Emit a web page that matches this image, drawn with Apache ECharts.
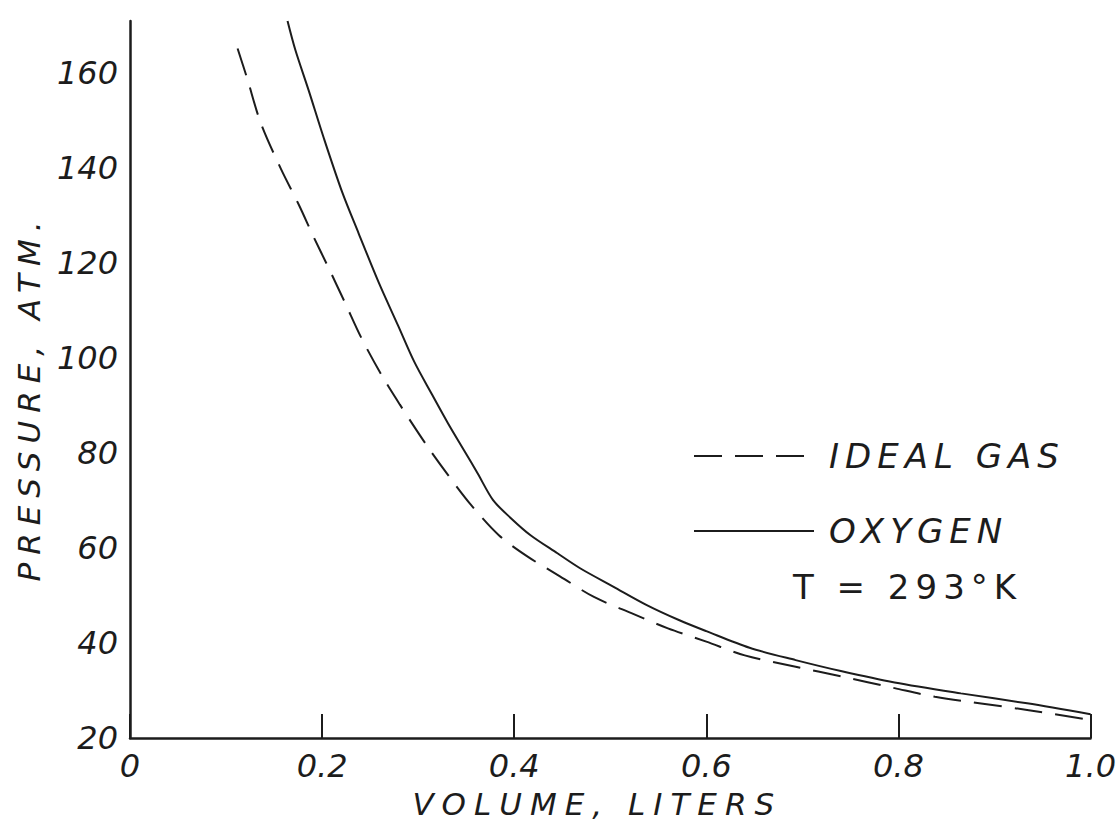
<!DOCTYPE html>
<html>
<head>
<meta charset="utf-8">
<title>Pressure vs Volume</title>
<script src="https://cdn.jsdelivr.net/npm/echarts@6/dist/echarts.min.js"></script>
<style>
  html, body { margin: 0; padding: 0; background: #ffffff; }
  #chart { width: 1119px; height: 831px; }
  /* hand-lettered look: widely spaced capitals */
  #chart text[style*="34px"] { letter-spacing: 6px; }
  #chart text[style*="31px"] { letter-spacing: 8px; }
</style>
</head>
<body>
<div id="chart"></div>
<script>
// Ideal gas curve (volume in liters, pressure in atm)
const idealVolume   = [0.112, 0.122, 0.136, 0.157, 0.176, 0.191, 0.207, 0.224, 0.241, 0.262, 0.281,
                       0.310, 0.331, 0.355, 0.384, 0.414, 0.448, 0.483, 0.522, 0.560, 0.600, 0.640,
                       0.693, 0.740, 0.796, 0.838, 0.934, 1.000];
const idealPressure = [165.2, 158.9, 149.6, 139.9, 132.2, 125.6, 118.9, 111.6, 104.2, 96.4, 90.2,
                       81.3, 75.4, 69.1, 62.7, 58.2, 54.0, 49.7, 46.3, 43.1, 40.3, 37.4,
                       35.0, 33.0, 30.5, 28.7, 25.9, 23.8];

// Oxygen curve
const oxygenVolume   = [0.164, 0.172, 0.186, 0.202, 0.221, 0.238, 0.259, 0.279, 0.296, 0.314, 0.331,
                        0.348, 0.362, 0.378, 0.396, 0.417, 0.445, 0.469, 0.503, 0.538, 0.572, 0.600,
                        0.645, 0.693, 0.740, 0.796, 0.865, 0.934, 1.000];
const oxygenPressure = [171.0, 165.0, 156.4, 146.2, 134.9, 126.3, 115.9, 106.9, 99.2, 92.5, 86.3,
                        80.5, 75.7, 70.1, 66.4, 62.7, 58.9, 55.7, 51.9, 48.0, 44.8, 42.5,
                        39.0, 36.4, 34.1, 31.7, 29.4, 27.3, 25.0];

// Axis tick values and their printed labels
const xTickValues = [0, 0.2, 0.4, 0.6, 0.8, 1.0];
const xTickLabels = ['0', '0.2', '0.4', '0.6', '0.8', '1.0'];
const yTickValues = [20, 40, 60, 80, 100, 120, 140, 160];
const yTickLabels = ['20', '40', '60', '80', '100', '120', '140', '160'];

const seriesNames = ['IDEAL GAS', 'OXYGEN'];
const noteText = 'T = 293°K';

const ink = '#1c1c1c';
const fontFamily = '"DejaVu Sans", "Liberation Sans", sans-serif';

function pairs(xs, ys) { return xs.map((x, i) => [x, ys[i]]); }
function lookup(values, labels, v) {
  for (let i = 0; i < values.length; i++) {
    if (Math.abs(values[i] - v) < 1e-6) return labels[i];
  }
  return '';
}

const chart = echarts.init(document.getElementById('chart'), null, { renderer: 'svg' });

chart.setOption({
  backgroundColor: '#ffffff',
  animation: false,
  grid: { left: 130, right: 22, top: 21, bottom: 93, containLabel: false },
  xAxis: {
    type: 'value',
    min: 0, max: 1.0, interval: 0.2,
    name: 'VOLUME, LITERS',
    nameLocation: 'middle',
    nameGap: 50,
    nameTextStyle: {
      color: ink, fontFamily: fontFamily, fontSize: 31, fontWeight: 'normal', fontStyle: 'italic',
      padding: [0, 26, 0, 0]
    },
    axisLine: { show: true, lineStyle: { color: ink, width: 2.5 } },
    axisTick: { show: true, inside: true, length: 24, lineStyle: { color: ink, width: 2 } },
    axisLabel: {
      color: ink, fontFamily: fontFamily, fontSize: 32, fontWeight: 'normal', fontStyle: 'italic',
      margin: 12,
      formatter: v => lookup(xTickValues, xTickLabels, v)
    },
    splitLine: { show: false }
  },
  yAxis: {
    type: 'value',
    min: 20, max: 171, interval: 20,
    name: 'PRESSURE, ATM.',
    nameLocation: 'middle',
    nameGap: 86,
    nameRotate: 90,
    nameTextStyle: {
      color: ink, fontFamily: fontFamily, fontSize: 31, fontWeight: 'normal', fontStyle: 'italic',
      padding: [0, 36, 0, 0]
    },
    axisLine: { show: true, lineStyle: { color: ink, width: 2.5 } },
    axisTick: { show: false },
    axisLabel: {
      color: ink, fontFamily: fontFamily, fontSize: 32, fontWeight: 'normal', fontStyle: 'italic',
      margin: 12,
      showMaxLabel: false,
      formatter: v => lookup(yTickValues, yTickLabels, v)
    },
    splitLine: { show: false }
  },
  legend: {
    data: seriesNames,
    orient: 'vertical',
    left: 688,
    top: 434,
    itemWidth: 120,
    itemHeight: 30,
    itemGap: 41,
    itemStyle: { opacity: 0 },
    textStyle: {
      color: ink, fontFamily: fontFamily, fontSize: 34, fontWeight: 'normal', fontStyle: 'italic',
      lineHeight: 30, padding: [0, 0, 0, 10]
    }
  },
  graphic: [{
    type: 'text',
    left: 793,
    top: 570,
    style: {
      text: noteText,
      fill: ink,
      font: 'normal normal 34px ' + fontFamily
    }
  }],
  series: [
    {
      name: seriesNames[0],
      type: 'line',
      data: pairs(idealVolume, idealPressure),
      smooth: 0.3,
      symbol: 'none',
      lineStyle: { color: ink, width: 2, type: [28, 13] },
      itemStyle: { color: ink }
    },
    {
      name: seriesNames[1],
      type: 'line',
      data: pairs(oxygenVolume, oxygenPressure),
      smooth: 0.3,
      symbol: 'none',
      lineStyle: { color: ink, width: 2, type: 'solid' },
      itemStyle: { color: ink }
    }
  ]
});
</script>
</body>
</html>
